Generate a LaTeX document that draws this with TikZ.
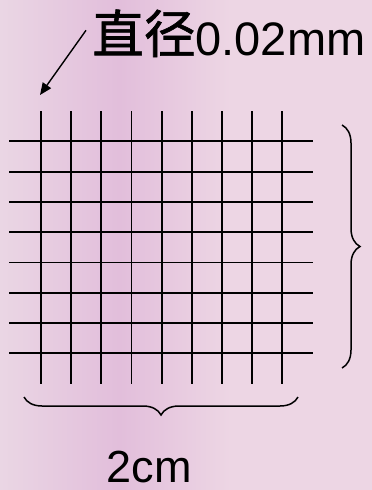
\documentclass[tikz,border=0pt]{standalone}
\usepackage{fontspec}
\setmainfont{Liberation Sans}
\newfontfamily\cjk{Noto Sans CJK SC}[Scale=1.1, FakeBold=1.2]
\usetikzlibrary{
    arrows.meta,
    decorations.pathreplacing,
}
\definecolor{pinkedge}{RGB}{234,214,228}
\definecolor{pinkmid}{RGB}{226,190,219}
\definecolor{pinkright}{RGB}{237,214,228}
\pgfdeclarehorizontalshading{pinkbg}{100bp}{color(0bp)=(pinkedge); color(25bp)=(pinkedge);
    color(41bp)=(pinkmid); color(56bp)=(pinkright); color(100bp)=(pinkright)}
\tikzset{
    % Line styles
    wire/.style={line width=1.9pt, black},
    curly/.style={decorate, decoration={brace, amplitude=18pt}, line width=1.5pt},
    pointer/.style={-{Triangle[length=12pt, width=10pt]}, line width=1.4pt},
    % Text styles
    bigtext/.style={inner sep=0pt, font=\fontsize{47}{50}\selectfont},
}

\begin{document}
\begin{tikzpicture}[x=1pt, y=-1pt]
    % Background
    \fill[shading=pinkbg] (0,0) rectangle (372,490);
    \useasboundingbox (0,0) rectangle (372,490);

    % Mesh
    \foreach \i in {0,...,8} {
        \draw[wire] (41+30.15*\i, 111) -- (41+30.15*\i, 384);
    }
    \foreach \j in {0,...,7} {
        \draw[wire] (9, 141.3+30.3*\j) -- (313, 141.3+30.3*\j);
    }

    % Diameter label
    \node[bigtext, anchor=base west] (diam) at (92,55) {\raisebox{2pt}{\cjk 直径}0.02mm};
    \coordinate (wiretip) at (40,95);
    \draw[pointer] ([xshift=-6pt, yshift=3pt]diam.west) -- (wiretip);

    % Braces
    \draw[curly] (342,125) -- (342,368);
    \draw[curly] (298,397) -- (24,397);
    \node[bigtext, font=\fontsize{45}{48}\selectfont, anchor=base] (width) at (149,482) {2cm};
\end{tikzpicture}
\end{document}
